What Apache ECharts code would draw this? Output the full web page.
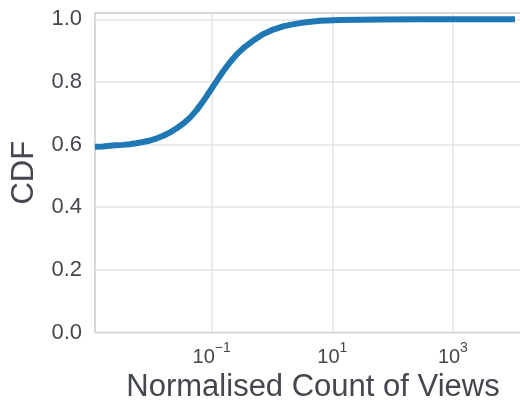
<!DOCTYPE html>
<html><head><meta charset="utf-8">
<script src="https://cdn.jsdelivr.net/npm/echarts@6/dist/echarts.min.js"></script>
<style>html,body{margin:0;padding:0;background:#fff}#c{width:520px;height:402px}</style>
</head><body><div id="c"></div>
<script>
const views = [0.00116, 0.00158, 0.00204, 0.00257, 0.00331, 0.00437, 0.00562, 0.00724, 0.00955, 0.0123,
  0.0158, 0.0204, 0.0263, 0.0339, 0.0437, 0.0562, 0.0759, 0.1, 0.126, 0.155,
  0.2, 0.26, 0.355, 0.49, 0.708, 1.05, 1.58, 2.57, 3.98, 6.31,
  13.5, 63, 316, 10700];
const cdf = [0.593, 0.594, 0.596, 0.598, 0.599, 0.601, 0.604, 0.608, 0.613, 0.620,
  0.628, 0.639, 0.652, 0.667, 0.686, 0.710, 0.744, 0.779, 0.808, 0.834,
  0.862, 0.888, 0.912, 0.932, 0.952, 0.967, 0.978, 0.986, 0.991, 0.995,
  0.998, 0.9995, 1.0, 1.0];
const xTickValues = [0.1, 10, 1000];
const yTickLabels = [0, 0.2, 0.4, 0.6, 0.8, 1.0];
const yGridValues = [0.2, 0.4, 0.6, 0.8, 1.0];

const textColor = '#45474f';
const font = 'Liberation Sans';
const chart = echarts.init(document.getElementById('c'), null, {renderer: 'canvas'});
const data = views.map((v, i) => [Math.log10(v), cdf[i]]);
const xTickPos = xTickValues.map(v => Math.log10(v));

chart.setOption({
  animation: false,
  grid: {left: 95, right: -2, top: 13, bottom: 69.5, outerBoundsMode: 'none', containLabel: false,
    show: true, borderColor: '#cccccc', borderWidth: 1.5},
  xAxis: {
    type: 'value', min: -2.935, max: 4.146,
    name: 'Normalised Count of Views', nameLocation: 'middle', nameGap: 38,
    nameTextStyle: {fontFamily: font, fontSize: 31, color: textColor, padding: [0, 0, 0, 9]},
    axisLine: {show: false},
    axisTick: {show: false, customValues: xTickPos},
    splitLine: {show: true, lineStyle: {color: '#e6e4e4', width: 1.5}},
    axisLabel: {
      customValues: xTickPos, margin: 9,
      formatter: v => '{b|10}{s|' + String(Math.round(v)).replace('-', '\u2212') + '}',
      rich: {
        b: {fontFamily: font, fontSize: 20, lineHeight: 26, verticalAlign: 'bottom', color: textColor},
        s: {fontFamily: font, fontSize: 14, lineHeight: 14, verticalAlign: 'top', color: textColor}
      }
    }
  },
  yAxis: {
    type: 'value', min: 0, max: 1.02,
    name: 'CDF', nameLocation: 'middle', nameGap: 55,
    nameTextStyle: {fontFamily: font, fontSize: 31, color: textColor},
    axisLine: {show: false},
    axisTick: {show: false, customValues: yGridValues},
    splitLine: {show: true, lineStyle: {color: '#e6e4e4', width: 1.5}},
    axisLabel: {
      customValues: yTickLabels, margin: 13,
      formatter: v => v.toFixed(1),
      fontFamily: font, fontSize: 22, color: textColor
    }
  },
  series: [{
    type: 'line', data: data, showSymbol: false,
    lineStyle: {color: '#1f77b4', width: 6, join: 'round'}
  }]
});
</script>
</body></html>
